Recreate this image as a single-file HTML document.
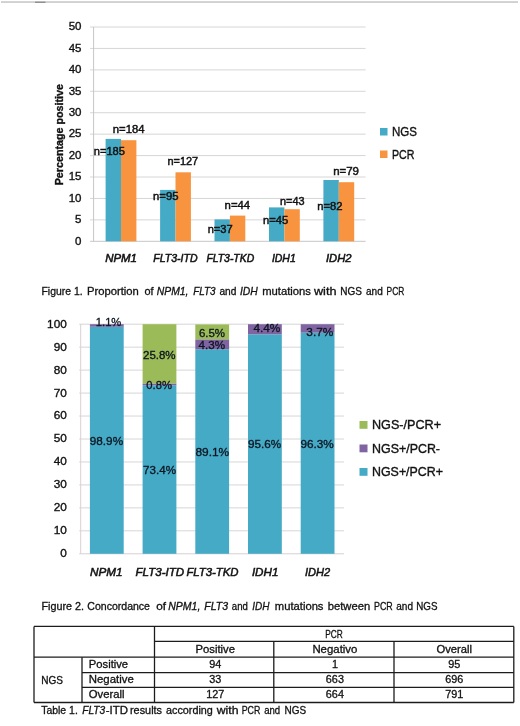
<!DOCTYPE html>
<html lang="en"><head><meta charset="utf-8"><title>Figure</title>
<style>html,body{margin:0;padding:0;background:#fff}body{width:520px;height:726px;overflow:hidden}svg{display:block}text{font-family:"Liberation Sans",sans-serif;fill:#111;stroke:#111;stroke-width:0.36px;paint-order:stroke}.i{font-style:italic}.b{font-weight:bold}.c{stroke-width:.3px}.n{stroke-width:.45px}.k{stroke-width:.5px}.h{stroke-width:.32px;fill:#0c1420;stroke:#0c1420}</style></head><body>
<svg width="520" height="726" viewBox="0 0 520 726">
<rect width="520" height="726" fill="#fff"/>
<rect x="1" y="1.2" width="517" height="1.7" fill="#cbcbcb"/>
<rect x="35" y="1.6" width="10.5" height="1.4" fill="#909090"/>
<line x1="90.1" y1="241.30" x2="365.6" y2="241.30" stroke="#c6c6c6" stroke-width="1"/>
<text x="81.5" y="244.5" font-size="11.5" text-anchor="end">0</text>
<line x1="90.1" y1="219.87" x2="365.6" y2="219.87" stroke="#d6d6d6" stroke-width="1"/>
<text x="81.5" y="223.1" font-size="11.5" text-anchor="end">5</text>
<line x1="90.1" y1="198.44" x2="365.6" y2="198.44" stroke="#d6d6d6" stroke-width="1"/>
<text x="81.5" y="201.6" font-size="11.5" text-anchor="end">10</text>
<line x1="90.1" y1="177.01" x2="365.6" y2="177.01" stroke="#d6d6d6" stroke-width="1"/>
<text x="81.5" y="180.2" font-size="11.5" text-anchor="end">15</text>
<line x1="90.1" y1="155.58" x2="365.6" y2="155.58" stroke="#d6d6d6" stroke-width="1"/>
<text x="81.5" y="158.8" font-size="11.5" text-anchor="end">20</text>
<line x1="90.1" y1="134.15" x2="365.6" y2="134.15" stroke="#d6d6d6" stroke-width="1"/>
<text x="81.5" y="137.3" font-size="11.5" text-anchor="end">25</text>
<line x1="90.1" y1="112.72" x2="365.6" y2="112.72" stroke="#d6d6d6" stroke-width="1"/>
<text x="81.5" y="115.9" font-size="11.5" text-anchor="end">30</text>
<line x1="90.1" y1="91.29" x2="365.6" y2="91.29" stroke="#d6d6d6" stroke-width="1"/>
<text x="81.5" y="94.5" font-size="11.5" text-anchor="end">35</text>
<line x1="90.1" y1="69.86" x2="365.6" y2="69.86" stroke="#d6d6d6" stroke-width="1"/>
<text x="81.5" y="73.1" font-size="11.5" text-anchor="end">40</text>
<line x1="90.1" y1="48.43" x2="365.6" y2="48.43" stroke="#d6d6d6" stroke-width="1"/>
<text x="81.5" y="51.6" font-size="11.5" text-anchor="end">45</text>
<line x1="90.1" y1="27.00" x2="365.6" y2="27.00" stroke="#d6d6d6" stroke-width="1"/>
<text x="81.5" y="30.2" font-size="11.5" text-anchor="end">50</text>
<line x1="93.6" y1="27.0" x2="93.6" y2="241.3" stroke="#c6c6c6" stroke-width="1"/>
<rect x="105.6" y="138.9" width="15.4" height="102.4" fill="#45aac6"/>
<rect x="121.0" y="140.2" width="15.4" height="101.1" fill="#f8943f"/>
<rect x="160.1" y="189.9" width="15.4" height="51.4" fill="#45aac6"/>
<rect x="175.5" y="172.3" width="15.4" height="69.0" fill="#f8943f"/>
<rect x="214.5" y="219.4" width="15.4" height="21.9" fill="#45aac6"/>
<rect x="229.9" y="215.6" width="15.4" height="25.7" fill="#f8943f"/>
<rect x="269.0" y="207.4" width="15.4" height="33.9" fill="#45aac6"/>
<rect x="284.4" y="209.2" width="15.4" height="32.1" fill="#f8943f"/>
<rect x="323.4" y="180.0" width="15.4" height="61.3" fill="#45aac6"/>
<rect x="338.8" y="182.2" width="15.4" height="59.1" fill="#f8943f"/>
<text x="112.8" y="132.8" font-size="10.8" text-anchor="start" class="n" textLength="31.8" lengthAdjust="spacingAndGlyphs">n=184</text>
<text x="93.8" y="155.2" font-size="10.8" text-anchor="start" class="n" textLength="31.1" lengthAdjust="spacingAndGlyphs">n=185</text>
<text x="167.5" y="165.2" font-size="10.8" text-anchor="start" class="n" textLength="30.7" lengthAdjust="spacingAndGlyphs">n=127</text>
<text x="153.1" y="200.3" font-size="10.8" text-anchor="start" class="n" textLength="25.4" lengthAdjust="spacingAndGlyphs">n=95</text>
<text x="224.6" y="208.5" font-size="10.8" text-anchor="start" class="n" textLength="25.6" lengthAdjust="spacingAndGlyphs">n=44</text>
<text x="207.7" y="232.5" font-size="10.8" text-anchor="start" class="n" textLength="25.0" lengthAdjust="spacingAndGlyphs">n=37</text>
<text x="280.0" y="205.4" font-size="10.8" text-anchor="start" class="n" textLength="24.6" lengthAdjust="spacingAndGlyphs">n=43</text>
<text x="263.0" y="223.8" font-size="10.8" text-anchor="start" class="n" textLength="25.3" lengthAdjust="spacingAndGlyphs">n=45</text>
<text x="333.2" y="174.6" font-size="10.8" text-anchor="start" class="n" textLength="25.8" lengthAdjust="spacingAndGlyphs">n=79</text>
<text x="317.2" y="210.0" font-size="10.8" text-anchor="start" class="n" textLength="25.3" lengthAdjust="spacingAndGlyphs">n=82</text>
<text x="105.2" y="261.5" font-size="10.5" text-anchor="start" class="i k" textLength="31.8" lengthAdjust="spacingAndGlyphs">NPM1</text>
<text x="153.3" y="261.5" font-size="10.5" text-anchor="start" class="i k" textLength="44.2" lengthAdjust="spacingAndGlyphs">FLT3-ITD</text>
<text x="206.4" y="261.5" font-size="10.5" text-anchor="start" class="i k" textLength="47.8" lengthAdjust="spacingAndGlyphs">FLT3-TKD</text>
<text x="271.9" y="261.5" font-size="10.5" text-anchor="start" class="i k" textLength="23.9" lengthAdjust="spacingAndGlyphs">IDH1</text>
<text x="326.0" y="261.5" font-size="10.5" text-anchor="start" class="i k" textLength="25.5" lengthAdjust="spacingAndGlyphs">IDH2</text>
<text transform="translate(63.3,185.3) rotate(-90)" font-size="11.3" class="b" textLength="101.3" lengthAdjust="spacingAndGlyphs">Percentage positive</text>
<rect x="380" y="128" width="7.5" height="7.5" fill="#45aac6"/>
<rect x="380" y="150.5" width="7.5" height="7.5" fill="#f8943f"/>
<text x="392.0" y="136.0" font-size="12.5" text-anchor="start" textLength="25.0" lengthAdjust="spacingAndGlyphs">NGS</text>
<text x="392.0" y="158.5" font-size="12.5" text-anchor="start" textLength="22.5" lengthAdjust="spacingAndGlyphs">PCR</text>
<text x="41.5" y="295.0" font-size="10.5" text-anchor="start" class="c" textLength="41.1" lengthAdjust="spacingAndGlyphs">Figure 1.</text>
<text x="87.0" y="295.0" font-size="10.5" text-anchor="start" class="c" textLength="51.8" lengthAdjust="spacingAndGlyphs">Proportion</text>
<text x="144.4" y="295.0" font-size="10.5" text-anchor="start" class="c" textLength="9.1" lengthAdjust="spacingAndGlyphs">of</text>
<text x="156.8" y="295.0" font-size="10.5" text-anchor="start" class="c i" textLength="31.7" lengthAdjust="spacingAndGlyphs">NPM1,</text>
<text x="193.3" y="295.0" font-size="10.5" text-anchor="start" class="c i" textLength="22.3" lengthAdjust="spacingAndGlyphs">FLT3</text>
<text x="219.4" y="295.0" font-size="10.5" text-anchor="start" class="c" textLength="17.0" lengthAdjust="spacingAndGlyphs">and</text>
<text x="240.0" y="295.0" font-size="10.5" text-anchor="start" class="c i" textLength="17.8" lengthAdjust="spacingAndGlyphs">IDH</text>
<text x="262.2" y="295.0" font-size="10.5" text-anchor="start" class="c" textLength="48.8" lengthAdjust="spacingAndGlyphs">mutations</text>
<text x="313.9" y="295.0" font-size="10.5" text-anchor="start" class="c" textLength="22.6" lengthAdjust="spacingAndGlyphs">with</text>
<text x="340.3" y="295.0" font-size="10.5" text-anchor="start" class="c" textLength="21.7" lengthAdjust="spacingAndGlyphs">NGS</text>
<text x="366.0" y="295.0" font-size="10.5" text-anchor="start" class="c" textLength="16.8" lengthAdjust="spacingAndGlyphs">and</text>
<text x="386.6" y="295.0" font-size="10.5" text-anchor="start" class="c" textLength="17.8" lengthAdjust="spacingAndGlyphs">PCR</text>
<line x1="79.2" y1="553.80" x2="344.0" y2="553.80" stroke="#d9cfd2" stroke-width="1"/>
<text x="66.8" y="557.2" font-size="11.8" text-anchor="end">0</text>
<line x1="79.2" y1="530.84" x2="344.0" y2="530.84" stroke="#d6d6d6" stroke-width="1"/>
<text x="66.8" y="534.2" font-size="11.8" text-anchor="end">10</text>
<line x1="79.2" y1="507.88" x2="344.0" y2="507.88" stroke="#d6d6d6" stroke-width="1"/>
<text x="66.8" y="511.3" font-size="11.8" text-anchor="end">20</text>
<line x1="79.2" y1="484.92" x2="344.0" y2="484.92" stroke="#d6d6d6" stroke-width="1"/>
<text x="66.8" y="488.3" font-size="11.8" text-anchor="end">30</text>
<line x1="79.2" y1="461.96" x2="344.0" y2="461.96" stroke="#d6d6d6" stroke-width="1"/>
<text x="66.8" y="465.4" font-size="11.8" text-anchor="end">40</text>
<line x1="79.2" y1="439.00" x2="344.0" y2="439.00" stroke="#d6d6d6" stroke-width="1"/>
<text x="66.8" y="442.4" font-size="11.8" text-anchor="end">50</text>
<line x1="79.2" y1="416.04" x2="344.0" y2="416.04" stroke="#d6d6d6" stroke-width="1"/>
<text x="66.8" y="419.4" font-size="11.8" text-anchor="end">60</text>
<line x1="79.2" y1="393.08" x2="344.0" y2="393.08" stroke="#d6d6d6" stroke-width="1"/>
<text x="66.8" y="396.5" font-size="11.8" text-anchor="end">70</text>
<line x1="79.2" y1="370.12" x2="344.0" y2="370.12" stroke="#d6d6d6" stroke-width="1"/>
<text x="66.8" y="373.5" font-size="11.8" text-anchor="end">80</text>
<line x1="79.2" y1="347.16" x2="344.0" y2="347.16" stroke="#d6d6d6" stroke-width="1"/>
<text x="66.8" y="350.6" font-size="11.8" text-anchor="end">90</text>
<line x1="79.2" y1="324.20" x2="344.0" y2="324.20" stroke="#d6d6d6" stroke-width="1"/>
<text x="66.8" y="327.6" font-size="11.8" text-anchor="end">100</text>
<line x1="80.7" y1="324.2" x2="80.7" y2="553.8" stroke="#d9cfd2" stroke-width="1"/>
<rect x="89.9" y="326.73" width="33.8" height="227.07" fill="#45aac6"/>
<rect x="89.9" y="324.20" width="33.8" height="2.53" fill="#8064a2"/>
<rect x="142.6" y="385.27" width="33.8" height="168.53" fill="#45aac6"/>
<rect x="142.6" y="383.44" width="33.8" height="1.84" fill="#8064a2"/>
<rect x="142.6" y="324.20" width="33.8" height="59.24" fill="#9bbb59"/>
<rect x="195.3" y="349.23" width="33.8" height="204.57" fill="#45aac6"/>
<rect x="195.3" y="339.35" width="33.8" height="9.87" fill="#8064a2"/>
<rect x="195.3" y="324.43" width="33.8" height="14.92" fill="#9bbb59"/>
<rect x="248.0" y="334.30" width="33.8" height="219.50" fill="#45aac6"/>
<rect x="248.0" y="324.20" width="33.8" height="10.10" fill="#8064a2"/>
<rect x="300.7" y="332.70" width="33.8" height="221.10" fill="#45aac6"/>
<rect x="300.7" y="324.20" width="33.8" height="8.50" fill="#8064a2"/>
<text x="95.8" y="326.4" font-size="11.8" text-anchor="start" class="h" textLength="25.5" lengthAdjust="spacingAndGlyphs">1.1%</text>
<text x="89.8" y="445.2" font-size="11.8" text-anchor="start" class="h" textLength="33.3" lengthAdjust="spacingAndGlyphs">98.9%</text>
<text x="143.0" y="358.7" font-size="11.8" text-anchor="start" class="h" textLength="32.6" lengthAdjust="spacingAndGlyphs">25.8%</text>
<text x="146.3" y="389.0" font-size="11.8" text-anchor="start" class="h" textLength="25.6" lengthAdjust="spacingAndGlyphs">0.8%</text>
<text x="143.1" y="473.8" font-size="11.8" text-anchor="start" class="h" textLength="32.9" lengthAdjust="spacingAndGlyphs">73.4%</text>
<text x="198.9" y="336.9" font-size="11.8" text-anchor="start" class="h" textLength="26.1" lengthAdjust="spacingAndGlyphs">6.5%</text>
<text x="198.5" y="348.5" font-size="11.8" text-anchor="start" class="h" textLength="26.5" lengthAdjust="spacingAndGlyphs">4.3%</text>
<text x="195.4" y="456.3" font-size="11.8" text-anchor="start" class="h" textLength="33.8" lengthAdjust="spacingAndGlyphs">89.1%</text>
<text x="253.4" y="332.3" font-size="11.8" text-anchor="start" class="h" textLength="27.0" lengthAdjust="spacingAndGlyphs">4.4%</text>
<text x="248.0" y="448.2" font-size="11.8" text-anchor="start" class="h" textLength="33.2" lengthAdjust="spacingAndGlyphs">95.6%</text>
<text x="306.3" y="335.9" font-size="11.8" text-anchor="start" class="h" textLength="27.0" lengthAdjust="spacingAndGlyphs">3.7%</text>
<text x="300.4" y="447.7" font-size="11.8" text-anchor="start" class="h" textLength="33.4" lengthAdjust="spacingAndGlyphs">96.3%</text>
<text x="90.0" y="575.5" font-size="11" text-anchor="start" class="i k" textLength="32.5" lengthAdjust="spacingAndGlyphs">NPM1</text>
<text x="135.5" y="575.5" font-size="11" text-anchor="start" class="i k" textLength="48.7" lengthAdjust="spacingAndGlyphs">FLT3-ITD</text>
<text x="186.4" y="575.5" font-size="11" text-anchor="start" class="i k" textLength="52.2" lengthAdjust="spacingAndGlyphs">FLT3-TKD</text>
<text x="251.9" y="575.5" font-size="11" text-anchor="start" class="i k" textLength="26.5" lengthAdjust="spacingAndGlyphs">IDH1</text>
<text x="305.0" y="575.5" font-size="11" text-anchor="start" class="i k" textLength="25.2" lengthAdjust="spacingAndGlyphs">IDH2</text>
<rect x="359.5" y="421.0" width="8" height="7.8" fill="#9bbb59"/>
<text x="372.0" y="429.0" font-size="12.6" text-anchor="start" textLength="69.0" lengthAdjust="spacingAndGlyphs">NGS-/PCR+</text>
<rect x="359.5" y="444.5" width="8" height="7.8" fill="#8064a2"/>
<text x="372.0" y="452.5" font-size="12.6" text-anchor="start" textLength="68.0" lengthAdjust="spacingAndGlyphs">NGS+/PCR-</text>
<rect x="359.5" y="468.0" width="8" height="7.8" fill="#45aac6"/>
<text x="372.0" y="476.0" font-size="12.6" text-anchor="start" textLength="71.0" lengthAdjust="spacingAndGlyphs">NGS+/PCR+</text>
<text x="41.5" y="610.0" font-size="10.5" text-anchor="start" class="c" textLength="42.5" lengthAdjust="spacingAndGlyphs">Figure 2.</text>
<text x="87.3" y="610.0" font-size="10.5" text-anchor="start" class="c" textLength="62.7" lengthAdjust="spacingAndGlyphs">Concordance</text>
<text x="156.2" y="610.0" font-size="10.5" text-anchor="start" class="c" textLength="9.8" lengthAdjust="spacingAndGlyphs">of</text>
<text x="168.3" y="610.0" font-size="10.5" text-anchor="start" class="c i" textLength="32.0" lengthAdjust="spacingAndGlyphs">NPM1,</text>
<text x="204.3" y="610.0" font-size="10.5" text-anchor="start" class="c i" textLength="23.7" lengthAdjust="spacingAndGlyphs">FLT3</text>
<text x="231.8" y="610.0" font-size="10.5" text-anchor="start" class="c" textLength="16.0" lengthAdjust="spacingAndGlyphs">and</text>
<text x="252.3" y="610.0" font-size="10.5" text-anchor="start" class="c i" textLength="17.2" lengthAdjust="spacingAndGlyphs">IDH</text>
<text x="274.8" y="610.0" font-size="10.5" text-anchor="start" class="c" textLength="48.7" lengthAdjust="spacingAndGlyphs">mutations</text>
<text x="327.7" y="610.0" font-size="10.5" text-anchor="start" class="c" textLength="42.5" lengthAdjust="spacingAndGlyphs">between</text>
<text x="374.0" y="610.0" font-size="10.5" text-anchor="start" class="c" textLength="18.7" lengthAdjust="spacingAndGlyphs">PCR</text>
<text x="396.2" y="610.0" font-size="10.5" text-anchor="start" class="c" textLength="16.8" lengthAdjust="spacingAndGlyphs">and</text>
<text x="416.3" y="610.0" font-size="10.5" text-anchor="start" class="c" textLength="21.2" lengthAdjust="spacingAndGlyphs">NGS</text>
<line x1="34.0" y1="626.4" x2="513.8" y2="626.4" stroke="#1c1c1c" stroke-width="1.3"/>
<line x1="34.0" y1="702.5" x2="513.8" y2="702.5" stroke="#1c1c1c" stroke-width="1.3"/>
<line x1="34.0" y1="626.4" x2="34.0" y2="702.5" stroke="#1c1c1c" stroke-width="1.3"/>
<line x1="513.8" y1="626.4" x2="513.8" y2="702.5" stroke="#1c1c1c" stroke-width="1.3"/>
<line x1="154.5" y1="626.4" x2="154.5" y2="702.5" stroke="#1c1c1c" stroke-width="1.3"/>
<line x1="82.0" y1="657.2" x2="82.0" y2="702.5" stroke="#1c1c1c" stroke-width="1.3"/>
<line x1="273.8" y1="641.4" x2="273.8" y2="702.5" stroke="#1c1c1c" stroke-width="1.3"/>
<line x1="394.0" y1="641.4" x2="394.0" y2="702.5" stroke="#1c1c1c" stroke-width="1.3"/>
<line x1="154.5" y1="641.4" x2="513.8" y2="641.4" stroke="#1c1c1c" stroke-width="1.3"/>
<line x1="34.0" y1="657.2" x2="513.8" y2="657.2" stroke="#1c1c1c" stroke-width="1.3"/>
<line x1="82.0" y1="672.6" x2="513.8" y2="672.6" stroke="#1c1c1c" stroke-width="1.3"/>
<line x1="82.0" y1="687.4" x2="513.8" y2="687.4" stroke="#1c1c1c" stroke-width="1.3"/>
<text x="334.1" y="637.5" font-size="10.5" text-anchor="middle" class="c" textLength="17.5" lengthAdjust="spacingAndGlyphs">PCR</text>
<text x="215.2" y="652.6" font-size="10.5" text-anchor="middle" class="c" textLength="39.5" lengthAdjust="spacingAndGlyphs">Positive</text>
<text x="334.9" y="652.6" font-size="10.5" text-anchor="middle" class="c" textLength="45.0" lengthAdjust="spacingAndGlyphs">Negativo</text>
<text x="454.3" y="652.6" font-size="10.5" text-anchor="middle" class="c" textLength="35.5" lengthAdjust="spacingAndGlyphs">Overall</text>
<text x="88.8" y="668.0" font-size="10.5" text-anchor="start" class="c" textLength="39.3" lengthAdjust="spacingAndGlyphs">Positive</text>
<text x="215.2" y="668.0" font-size="10.5" text-anchor="middle" class="c" textLength="12.1" lengthAdjust="spacingAndGlyphs">94</text>
<text x="334.9" y="668.0" font-size="10.5" text-anchor="middle" class="c" textLength="6.0" lengthAdjust="spacingAndGlyphs">1</text>
<text x="454.3" y="668.0" font-size="10.5" text-anchor="middle" class="c" textLength="12.1" lengthAdjust="spacingAndGlyphs">95</text>
<text x="88.8" y="683.2" font-size="10.5" text-anchor="start" class="c" textLength="45.0" lengthAdjust="spacingAndGlyphs">Negative</text>
<text x="215.2" y="683.2" font-size="10.5" text-anchor="middle" class="c" textLength="12.1" lengthAdjust="spacingAndGlyphs">33</text>
<text x="334.9" y="683.2" font-size="10.5" text-anchor="middle" class="c" textLength="18.1" lengthAdjust="spacingAndGlyphs">663</text>
<text x="454.3" y="683.2" font-size="10.5" text-anchor="middle" class="c" textLength="18.1" lengthAdjust="spacingAndGlyphs">696</text>
<text x="88.8" y="698.2" font-size="10.5" text-anchor="start" class="c" textLength="35.7" lengthAdjust="spacingAndGlyphs">Overall</text>
<text x="215.2" y="698.2" font-size="10.5" text-anchor="middle" class="c" textLength="18.1" lengthAdjust="spacingAndGlyphs">127</text>
<text x="334.9" y="698.2" font-size="10.5" text-anchor="middle" class="c" textLength="18.1" lengthAdjust="spacingAndGlyphs">664</text>
<text x="454.3" y="698.2" font-size="10.5" text-anchor="middle" class="c" textLength="18.1" lengthAdjust="spacingAndGlyphs">791</text>
<text x="41.2" y="683.5" font-size="10.5" text-anchor="start" class="c" textLength="21.8" lengthAdjust="spacingAndGlyphs">NGS</text>
<text x="41.2" y="714.0" font-size="10.5" text-anchor="start" class="c" textLength="36.6" lengthAdjust="spacingAndGlyphs">Table 1.</text>
<text x="82.2" y="714.0" font-size="10.5" text-anchor="start" class="c i" textLength="23.0" lengthAdjust="spacingAndGlyphs">FLT3</text>
<text x="105.8" y="714.0" font-size="10.5" text-anchor="start" class="c" textLength="22.2" lengthAdjust="spacingAndGlyphs">-ITD</text>
<text x="130.0" y="714.0" font-size="10.5" text-anchor="start" class="c" textLength="32.0" lengthAdjust="spacingAndGlyphs">results</text>
<text x="166.0" y="714.0" font-size="10.5" text-anchor="start" class="c" textLength="46.8" lengthAdjust="spacingAndGlyphs">according</text>
<text x="216.7" y="714.0" font-size="10.5" text-anchor="start" class="c" textLength="21.8" lengthAdjust="spacingAndGlyphs">with</text>
<text x="241.7" y="714.0" font-size="10.5" text-anchor="start" class="c" textLength="18.7" lengthAdjust="spacingAndGlyphs">PCR</text>
<text x="264.2" y="714.0" font-size="10.5" text-anchor="start" class="c" textLength="16.0" lengthAdjust="spacingAndGlyphs">and</text>
<text x="284.6" y="714.0" font-size="10.5" text-anchor="start" class="c" textLength="21.6" lengthAdjust="spacingAndGlyphs">NGS</text>
</svg></body></html>
